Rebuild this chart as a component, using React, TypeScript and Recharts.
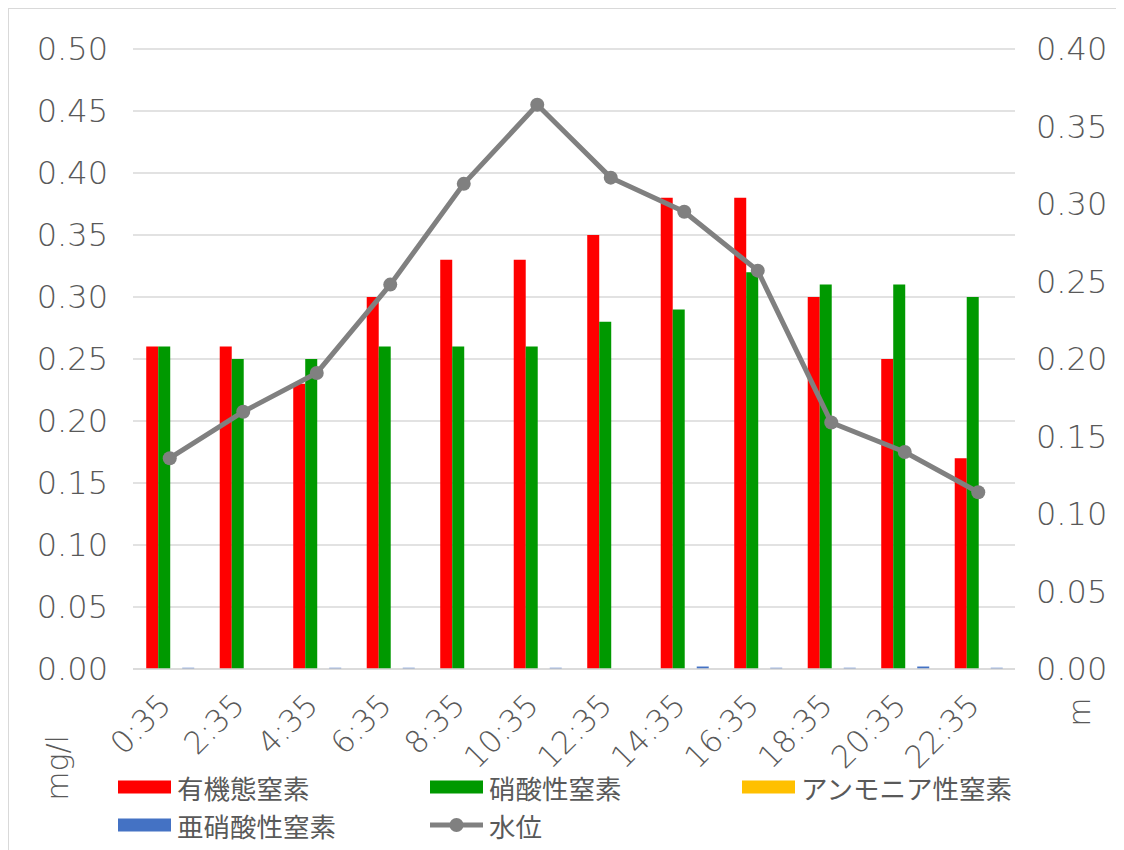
import React from 'react';
import {
  ComposedChart,
  Bar,
  Line,
  XAxis,
  YAxis,
  CartesianGrid,
  Legend,
} from 'recharts';

// Sampling times
const times = ['0:35', '2:35', '4:35', '6:35', '8:35', '10:35', '12:35', '14:35', '16:35', '18:35', '20:35', '22:35'];

// Nitrogen species (mg/l)
const organicN = [0.26, 0.26, 0.23, 0.3, 0.33, 0.33, 0.35, 0.38, 0.38, 0.3, 0.25, 0.17];
const nitrateN = [0.26, 0.25, 0.25, 0.26, 0.26, 0.26, 0.28, 0.29, 0.32, 0.31, 0.31, 0.3];
const ammoniumN = [0, 0, 0, 0, 0, 0, 0, 0, 0, 0, 0, 0];
const nitriteN = [0.001, 0, 0.001, 0.001, 0, 0.001, 0, 0.002, 0.001, 0.001, 0.002, 0.001];

// Water level (m)
const waterLevel = [0.136, 0.166, 0.191, 0.248, 0.313, 0.364, 0.317, 0.295, 0.257, 0.159, 0.14, 0.114];

const leftTicks = [0, 0.05, 0.1, 0.15, 0.2, 0.25, 0.3, 0.35, 0.4, 0.45, 0.5];
const rightTicks = [0, 0.05, 0.1, 0.15, 0.2, 0.25, 0.3, 0.35, 0.4];

const seriesNames = {
  organic: '有機態窒素',
  nitrate: '硝酸性窒素',
  ammonium: 'アンモニア性窒素',
  nitrite: '亜硝酸性窒素',
  level: '水位',
};

const COLORS = {
  organic: '#FF0000',
  nitrate: '#009900',
  ammonium: '#FFC000',
  nitrite: '#4472C4',
  level: '#808080',
};

const TEXT = '#595959';
const GRID = '#d9d9d9';
const NUM_FONT = '"DejaVu Sans", sans-serif';
const JP_FONT = '"Noto Sans CJK JP", "Noto Sans", sans-serif';

const data = times.map((t, i) => ({
  time: t,
  organic: organicN[i],
  nitrate: nitrateN[i],
  ammonium: ammoniumN[i],
  nitrite: nitriteN[i],
  level: waterLevel[i],
}));

const W = 1114;
const H = 848;
const LEGEND_H = 90;

const XTick = (props: any) => {
  const { x, y, payload } = props;
  const ax = x + 3;
  const ay = y + 36;
  return (
    <text
      x={ax}
      y={ay}
      transform={`rotate(-45, ${ax}, ${ay})`}
      textAnchor="end"
      fill={TEXT}
      fontFamily={NUM_FONT}
      fontWeight={200}
      fontSize={31}
    >
      {payload.value}
    </text>
  );
};

const LeftTitle = (props: any) => {
  const vb = props.viewBox || {};
  const cx = vb.x + 48;
  const cy = vb.y + vb.height + 99;
  return (
    <text
      x={cx}
      y={cy}
      transform={`rotate(-90, ${cx}, ${cy})`}
      textAnchor="middle"
      dominantBaseline="central"
      fill={TEXT}
      fontFamily={NUM_FONT}
      fontWeight={200}
      fontSize={30}
    >
      mg/l
    </text>
  );
};

const RightTitle = (props: any) => {
  const vb = props.viewBox || {};
  const cx = vb.x + 64;
  const cy = vb.y + vb.height + 43;
  return (
    <text
      x={cx}
      y={cy}
      transform={`rotate(-90, ${cx}, ${cy})`}
      textAnchor="middle"
      dominantBaseline="central"
      fill={TEXT}
      fontFamily={NUM_FONT}
      fontWeight={200}
      fontSize={30}
    >
      m
    </text>
  );
};

const LegendContent = () => {
  const colX = [109, 421, 733];
  const row1 = 20;
  const row2 = 58;
  const swW = 53;
  const swH = 13;
  const textStyle = {
    fill: TEXT,
    fontFamily: JP_FONT,
    fontSize: 26.5,
  };
  const swatch = (x: number, cy: number, color: string, label: string) => (
    <g key={label}>
      <rect x={x} y={cy - swH / 2} width={swW} height={swH} fill={color} />
      <text x={x + swW + 6} y={cy} dominantBaseline="central" style={textStyle}>
        {label}
      </text>
    </g>
  );
  return (
    <svg width={W} height={LEGEND_H} style={{ display: 'block', overflow: 'visible' }}>
      {swatch(colX[0], row1, COLORS.organic, seriesNames.organic)}
      {swatch(colX[1], row1, COLORS.nitrate, seriesNames.nitrate)}
      {swatch(colX[2], row1, COLORS.ammonium, seriesNames.ammonium)}
      {swatch(colX[0], row2, COLORS.nitrite, seriesNames.nitrite)}
      <g>
        <line x1={colX[1]} x2={colX[1] + swW} y1={row2} y2={row2} stroke={COLORS.level} strokeWidth={5} />
        <circle cx={colX[1] + swW / 2} cy={row2} r={7} fill={COLORS.level} />
        <text x={colX[1] + swW + 6} y={row2} dominantBaseline="central" style={textStyle}>
          {seriesNames.level}
        </text>
      </g>
    </svg>
  );
};

const tickStyle = {
  fill: TEXT,
  fontFamily: NUM_FONT,
  fontWeight: 200,
  fontSize: 32,
};

export default function App() {
  return (
    <div
      style={{
        width: 1116,
        height: 850,
        border: `1px solid ${GRID}`,
        boxSizing: 'border-box',
        background: '#fff',
      }}
    >
      <ComposedChart
        width={W}
        height={H}
        data={data}
        margin={{ top: 40, right: 0, bottom: 0, left: 0 }}
        barCategoryGap="18%"
        barGap={0}
      >
        <CartesianGrid yAxisId="left" vertical={false} stroke={GRID} strokeWidth={1.5} />
        <XAxis
          dataKey="time"
          height={98}
          interval={0}
          tick={<XTick />}
          tickLine={false}
          tickSize={0}
          axisLine={{ stroke: GRID, strokeWidth: 1.5 }}
        />
        <YAxis
          yAxisId="left"
          width={124}
          domain={[0, 0.5]}
          ticks={leftTicks}
          tickFormatter={(v: number) => v.toFixed(2)}
          axisLine={false}
          tickLine={false}
          tickSize={0}
          tickMargin={25}
          tick={tickStyle}
          label={{ content: <LeftTitle /> }}
        />
        <YAxis
          yAxisId="right"
          orientation="right"
          width={108}
          domain={[0, 0.4]}
          ticks={rightTicks}
          tickFormatter={(v: number) => v.toFixed(2)}
          axisLine={false}
          tickLine={false}
          tickSize={0}
          tickMargin={21}
          tick={tickStyle}
          label={{ content: <RightTitle /> }}
        />
        <Bar yAxisId="left" dataKey="organic" name={seriesNames.organic} fill={COLORS.organic} isAnimationActive={false} />
        <Bar yAxisId="left" dataKey="nitrate" name={seriesNames.nitrate} fill={COLORS.nitrate} isAnimationActive={false} />
        <Bar yAxisId="left" dataKey="ammonium" name={seriesNames.ammonium} fill={COLORS.ammonium} isAnimationActive={false} />
        <Bar yAxisId="left" dataKey="nitrite" name={seriesNames.nitrite} fill={COLORS.nitrite} isAnimationActive={false} />
        <Line
          yAxisId="right"
          dataKey="level"
          name={seriesNames.level}
          stroke={COLORS.level}
          strokeWidth={5}
          dot={{ r: 7, fill: COLORS.level, stroke: 'none' }}
          activeDot={false}
          isAnimationActive={false}
        />
        <Legend
          verticalAlign="bottom"
          content={<LegendContent />}
          wrapperStyle={{ left: 0, width: W, height: LEGEND_H }}
        />
      </ComposedChart>
    </div>
  );
}
